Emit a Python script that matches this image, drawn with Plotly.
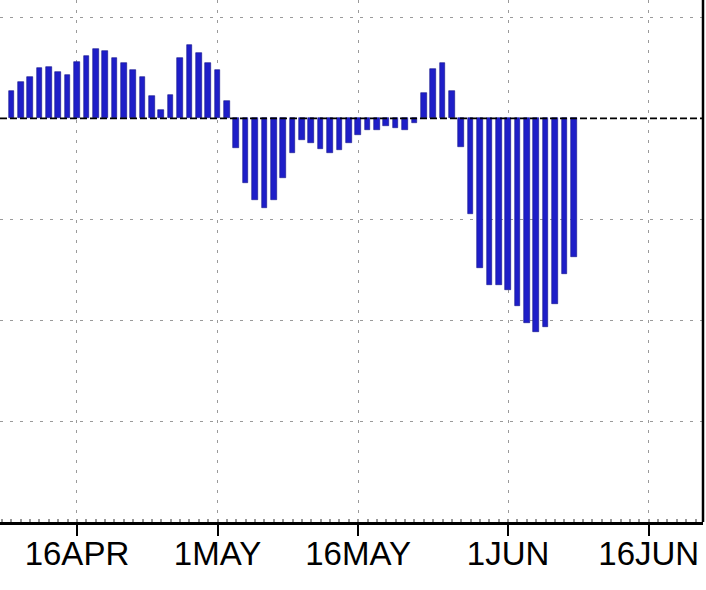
import plotly.graph_objects as go
import pandas as pd

# Daily values, 9 APR .. 8 JUN
apr_values = [0.27, 0.36, 0.41, 0.50, 0.51, 0.46, 0.43, 0.56, 0.62, 0.69, 0.67,
              0.60, 0.55, 0.48, 0.41, 0.22, 0.08, 0.23, 0.60, 0.73, 0.65, 0.55]
may_values = [0.48, 0.17, -0.29, -0.64, -0.81, -0.89, -0.81, -0.59, -0.34, -0.21,
              -0.24, -0.30, -0.34, -0.31, -0.24, -0.16, -0.12, -0.12, -0.08, -0.10,
              -0.12, -0.05, 0.25, 0.49, 0.55, 0.27, -0.28, -0.95, -1.48, -1.65, -1.65]
jun_values = [-1.70, -1.86, -2.03, -2.12, -2.07, -1.84, -1.54, -1.37]

values = apr_values + may_values + jun_values
dates = pd.date_range("2023-04-09", periods=len(values), freq="D")

tick_dates = ["2023-04-16", "2023-05-01", "2023-05-16", "2023-06-01", "2023-06-16"]
tick_labels = ["16APR", "1MAY", "16MAY", "1JUN", "16JUN"]
y_grid = [1, 0, -1, -2, -3]

DAY_MS = 86400000

fig = go.Figure()
fig.add_trace(go.Bar(
    x=dates, y=values,
    width=0.6 * DAY_MS,
    marker=dict(color="#1e1ec8", line=dict(color="#14148a", width=0.6)),
))

fig.update_layout(
    width=706, height=590,
    margin=dict(l=0, r=3, t=0, b=68, autoexpand=False),
    paper_bgcolor="white", plot_bgcolor="white",
    showlegend=False,
    bargap=0,
    font=dict(family="Liberation Sans, Arial, sans-serif", size=33, color="black"),
)

fig.update_xaxes(
    type="date",
    automargin=False,
    range=["2023-04-07 19:00", "2023-06-21 19:00"],
    tickvals=tick_dates, ticktext=tick_labels,
    ticks="outside", ticklen=11, tickwidth=1.5, tickcolor="black",
    ticklabelstandoff=-10,
    showline=True, linecolor="black", linewidth=2.5,
    showgrid=True, gridcolor="#9a9a9a", gridwidth=1, griddash="3px,7px",
    minor=dict(ticks="inside", dtick=DAY_MS, tick0="2023-04-01",
               ticklen=3, tickcolor="#999999", showgrid=False),
    tickfont=dict(size=33),
)

fig.update_yaxes(
    automargin=False,
    range=[-4, 1.173],
    tickvals=y_grid,
    showticklabels=False, ticks="",
    showline=False,
    showgrid=True, gridcolor="#9a9a9a", gridwidth=1, griddash="3px,7px",
    zeroline=False,
)

# right frame border
fig.add_shape(type="line", xref="paper", yref="paper", x0=1, x1=1, y0=0, y1=1,
              line=dict(color="black", width=2.5), layer="above")
# dashed zero line
fig.add_shape(type="line", xref="paper", yref="y", x0=0, x1=1, y0=0, y1=0,
              line=dict(color="black", width=1.8, dash="7px,3px"), layer="above")

fig.write_html(
    "out.html",
    config={"displayModeBar": False},
    post_script="document.body.style.margin='0';document.body.style.overflow='hidden';",
)
